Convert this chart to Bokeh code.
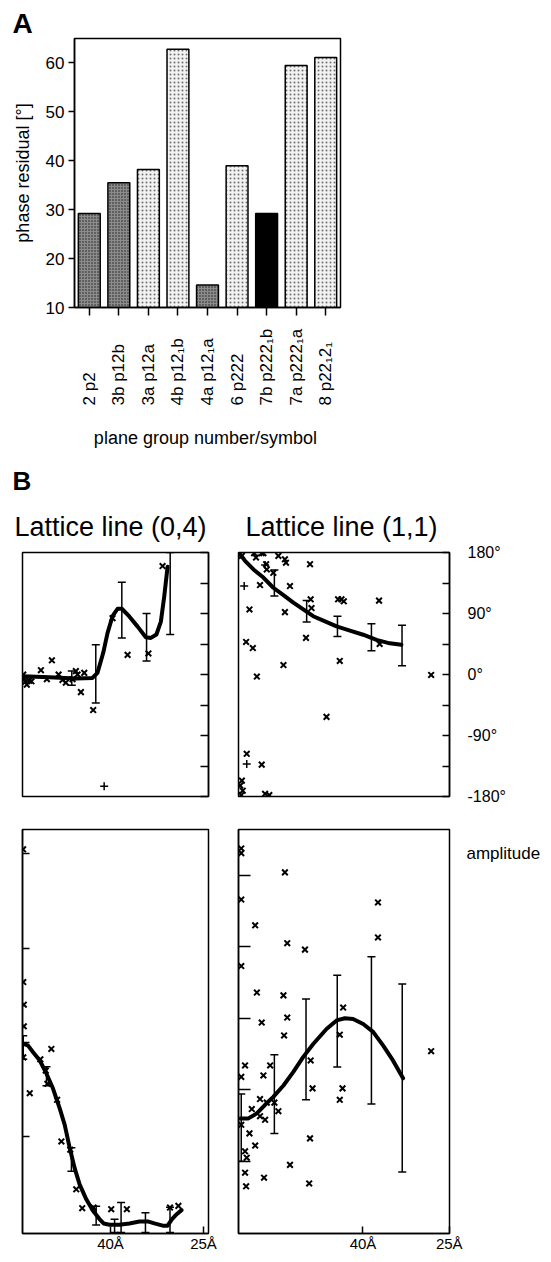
import math
from bokeh.plotting import figure
from bokeh.models import Range1d, LinearAxis, FixedTicker, Whisker, TeeHead, ColumnDataSource, Title
from bokeh.core.properties import value
from bokeh.layouts import column, row
from bokeh.embed import file_html
from bokeh.resources import INLINE

FONT = "Liberation Sans"

# ---------------- Panel A data ----------------
plane_groups = ["2 p2", "3b p12b", "3a p12a", "4b p12\u2081b", "4a p12\u2081a",
                "6 p222", "7b p222\u2081b", "7a p222\u2081a", "8 p22\u20812\u2081"]
phase_residual = [29.2, 35.5, 38.2, 62.8, 14.6, 39.0, 29.2, 59.5, 61.1]
bar_shading = ["dark", "dark", "light", "light", "dark", "light", "black", "light", "light"]
residual_ticks = [10, 20, 30, 40, 50, 60]

# ---------------- Panel B data ----------------
# Lattice line (0,4): phase
ll04_phase_curve_z = [0, .143, .287, .376, .403, .434, .457, .484, .511, .534, .573, .618, .663, .690, .720, .744, .762, .780]
ll04_phase_curve = [-2.5, -4, -6, -5, 2.4, 32, 61, 86, 97, 97, 86, 71, 55, 54, 59, 78, 115, 159]
ll04_phase_err_z = [.265, .394, .534, .667, .794]
ll04_phase_err_hi = [5, 44, 136, 90, 180]
ll04_phase_err_lo = [-16, -42, 54, 20, 59]
ll04_phase_pts_z = [.004, .009, .014, .023, .036, .048, .099, .131, .158, .194, .215, .233, .269, .287, .296, .332, .314, .380, .484, .565, .677, .753]
ll04_phase_pts = [0, -6.4, -11, -15, -9, -10, 6.4, -7, 21, 0, -8, -12, -7, 5, 0, 2.4, -26, -52.5, 83, 29, 31, 160]
ll04_phase_plus_z = [.439]
ll04_phase_plus = [-165]

# Lattice line (1,1): phase
ll11_phase_curve_z = [.005, .031, .071, .118, .165, .213, .260, .307, .354, .402, .465, .528, .591, .654, .717, .772]
ll11_phase_curve = [178.5, 167.6, 155, 143, 128, 117, 106, 96, 86, 79.5, 71, 64.7, 58.7, 51, 46, 44]
ll11_phase_err_z = [.170, .323, .469, .630, .775]
ll11_phase_err_hi = [154, 109, 86, 75, 72.6]
ll11_phase_err_lo = [116, 77.5, 56, 35, 13]
ll11_phase_pts_z = [.016, .074, .083, .110, .118, .131, .134, .165, .189, .220, .225, .339, .244, .102, .052, .220,
                    .036, .068, .087, .213, .320, .342, .346, .472, .488, .499, .666, .669, .480, .417, .913,
                    .110, .039, .016, .008, .020, .013, .126, .146]
ll11_phase_pts = [175, 179, 172.6, 179, 179, 162.7, 155, 150, 175, 170, 165, 162.7, 130.5, 132, 96, 92,
                  48, 39, -3, 14, 54, 111, 98, 111, 111, 108, 109, 45, 20, -62.5, -0.7,
                  -133, -117, -156.6, -164, -171.5, -178, -176, -178]
ll11_phase_plus_z = [.027, .039, .126]
ll11_phase_plus = [130.5, -132, 161.7]

# Lattice line (0,4): amplitude
ll04_amp_curve_z = [0, .030, .057, .093, .129, .164, .2, .227, .254, .280, .307, .343, .379, .414, .436, .468, .521,
                    .575, .629, .673, .709, .754, .780, .804, .829, .855]
ll04_amp_curve = [1.99, 1.965, 1.895, 1.807, 1.667, 1.509, 1.298, 1.123, .877, .667, .491, .333, .211, .123, .077,
                  .063, .063, .077, .098, .098, .077, .053, .053, .123, .175, .218]
ll04_amp_err_z = [.004, .129, .263, .396, .495, .530, .661, .793]
ll04_amp_err_hi = [2.07, 1.74, .88, .26, .12, .30, .19, .25]
ll04_amp_err_lo = [1.82, 1.54, .63, .06, -.02, -.02, -.02, -.02]
ll04_amp_pts_z = [.003, .004, .007, .007, .004, .039, .155, .096, .125, .134, .186, .209, .257, .289, .321, .382,
                  .477, .561, .793, .838]
ll04_amp_pts = [4.05, 2.64, 2.40, 2.17, 1.84, 1.46, 1.93, 1.82, 1.70, 1.56, 1.39, .947, .86, .439, .239, .246,
                .228, .228, .246, .263]

# Lattice line (1,1): amplitude
ll11_amp_curve_z = [.008, .047, .087, .126, .165, .213, .260, .307, .354, .417, .465, .504, .543, .591, .638, .685, .732, .780]
ll11_amp_curve = [1.60, 1.60, 1.67, 1.79, 1.90, 2.06, 2.25, 2.46, 2.64, 2.85, 2.97, 3.0, 2.99, 2.92, 2.81, 2.62, 2.41, 2.16]
ll11_amp_err_z = [.013, .170, .320, .468, .630, .776]
ll11_amp_err_hi = [1.94, 2.49, 3.27, 3.60, 3.86, 3.48]
ll11_amp_err_lo = [1.0, 1.39, 1.86, 2.32, 1.80, .85]
ll11_amp_pts_z = [.013, .013, .013, .013, .013, .031, .087, .110, .118, .079, .220, .231, .315, .213, .231, .216,
                  .150, .102, .134, .170, .189, .063, .102, .126, .013, .052, .079, .031, .039, .031, .036, .121,
                  .244, .339, .335, .342, .351, .480, .496, .493, .480, .661, .661, .913]
ll11_amp_pts = [5.375, 5.31, 4.66, 3.73, 2.18, 2.34, 3.36, 2.94, 2.20, 4.30, 5.04, 4.05, 3.96, 3.32, 3.01, 2.76,
                2.34, 1.87, 1.82, 1.82, 1.70, 1.73, 1.63, 1.58, 1.51, 1.39, 1.22, 1.14, 1.05, .84, .65, .77,
                .95, 1.32, .69, 2.41, 2.02, 2.77, 3.15, 2.02, 1.86, 4.62, 4.13, 2.54]

phase_ticks = [-180, -135, -90, -45, 0, 45, 90, 135, 180]
phase_labels = {-180: "-180\u00b0", -135: "", -90: "-90\u00b0", -45: "", 0: "0\u00b0",
                45: "", 90: "90\u00b0", 135: "", 180: "180\u00b0"}
ll04_amp_ticks = [1, 2, 3, 4]
ll11_amp_ticks = [1, 2, 3, 4, 5]
ll04_res_ticks = [0.473, 0.973]
ll11_res_ticks = [0.59, 0.999]
res_labels = ["40\u00c5", "25\u00c5"]
amplitude_label_at = 5.31


def make_fig(w, h, xr, yr, bl, br, bt, bb, outline=True):
    p = figure(width=w, height=h, x_range=xr, y_range=yr, output_backend="svg",
               toolbar_location=None, x_axis_location=None, y_axis_location=None,
               min_border_left=bl, min_border_right=br, min_border_top=bt, min_border_bottom=bb)
    p.xgrid.visible = False
    p.ygrid.visible = False
    if outline:
        p.outline_line_color = "black"
        p.outline_line_width = 1.5
        p.outline_line_alpha = 1.0
    else:
        p.outline_line_color = None
    return p


def inner_axis(ticks, tick_len, labels=None, font_size="15px", standoff=0):
    ax = LinearAxis(ticker=FixedTicker(ticks=ticks), major_tick_in=tick_len, major_tick_out=0,
                    minor_tick_line_color=None, axis_line_color="black", axis_line_width=1.5,
                    major_tick_line_width=1.5, major_label_text_font=FONT,
                    major_label_text_font_size=font_size, major_label_standoff=standoff,
                    major_label_text_color="black")
    if labels is not None:
        ax.major_label_overrides = labels
    else:
        ax.major_label_text_font_size = "1px"
        ax.major_label_text_color = None
    return ax


# ---------------- Panel A ----------------
pa = make_fig(543, 316, Range1d(0.5, 9.5), Range1d(10, 65), 74, 203, 38, 9)
xs = list(range(1, len(plane_groups) + 1))
styles = {
    "dark": dict(fill_color="#8c8c8c", hatch_pattern="dot", hatch_color="#1a1a1a", hatch_scale=3, hatch_weight=1),
    "light": dict(fill_color="#f2f2f2", hatch_pattern="dot", hatch_color="#707070", hatch_scale=4, hatch_weight=1),
    "black": dict(fill_color="black"),
}
for shade, st in styles.items():
    bx = [x for x, s in zip(xs, bar_shading) if s == shade]
    bt = [v for v, s in zip(phase_residual, bar_shading) if s == shade]
    pa.vbar(x=bx, top=bt, bottom=0, width=0.74, line_color="black", line_width=1.5, **st)

left_ax = LinearAxis(ticker=FixedTicker(ticks=residual_ticks), major_tick_out=6, major_tick_in=0,
                     minor_tick_line_color=None, axis_line_width=1.5, major_tick_line_width=1.5,
                     major_label_text_font=FONT, major_label_text_font_size="17px",
                     major_label_text_color="black", major_label_standoff=4,
                     axis_label="phase residual [\u00b0]", axis_label_text_font=FONT,
                     axis_label_text_font_size="18px", axis_label_text_font_style="normal",
                     axis_label_text_color="black", axis_label_standoff=10)
pa.add_layout(left_ax, "left")
bottom_ax = LinearAxis(ticker=FixedTicker(ticks=xs), major_tick_out=8, major_tick_in=0,
                       minor_tick_line_color=None, axis_line_width=1.5, major_tick_line_width=1.5,
                       major_label_text_font_size="1px", major_label_text_color=None,
                       major_label_standoff=0)
pa.add_layout(bottom_ax, "below")
pa.add_layout(Title(text="A", align="left", offset=-62, standoff=0, text_font=FONT,
                    text_font_size="28px", text_font_style="bold", text_color="black"), "above")

# strip under panel A carrying the rotated category names and the axis title
pa_names = make_fig(543, 144, pa.x_range, Range1d(0, 144), 74, 203, 0, 0, outline=False)
pa_names.text(x=xs, y=[55] * len(xs), text=plane_groups, angle=math.pi / 2, text_align="left",
              text_baseline="middle", text_font=value(FONT), text_font_size="17px", text_color="black")
pa_names.text(x=[4.93], y=[23], text=["plane group number/symbol"], text_align="center",
              text_baseline="alphabetic", text_font=value(FONT), text_font_size="18px", text_color="black")


def draw_panel(p, cz, cv, ez, ehi, elo, pz, pv, plz=None, plv=None):
    src = ColumnDataSource(dict(z=ez, hi=ehi, lo=elo))
    p.add_layout(Whisker(source=src, base="z", upper="hi", lower="lo", dimension="height",
                         line_color="black", line_width=1.5,
                         upper_head=TeeHead(size=8, line_width=1.5, line_color="black"),
                         lower_head=TeeHead(size=8, line_width=1.5, line_color="black")))
    p.line(cz, cv, line_color="black", line_width=4, line_join="round", line_cap="round")
    p.scatter(pz, pv, marker="x", size=8, line_width=2, line_color="black")
    if plz:
        p.scatter(plz, plv, marker="cross", size=8, line_width=1.5, line_color="black")


def lattice_title(text, offset):
    return Title(text=text, align="left", offset=offset, standoff=22, text_font=FONT,
                 text_font_size="27px", text_font_style="normal", text_color="black")


# ---------------- Upper-left: (0,4) phase ----------------
ul = make_fig(228, 350, Range1d(0, 1), Range1d(-180, 180), 22, 20, 92, 14)
draw_panel(ul, ll04_phase_curve_z, ll04_phase_curve, ll04_phase_err_z, ll04_phase_err_hi, ll04_phase_err_lo,
           ll04_phase_pts_z, ll04_phase_pts, ll04_phase_plus_z, ll04_phase_plus)
ul.add_layout(inner_axis(phase_ticks, 8), "right")
ul.add_layout(lattice_title("Lattice line (0,4)", -8), "above")
ul.add_layout(Title(text="B", align="left", offset=-10, standoff=6, text_font=FONT,
                    text_font_size="26px", text_font_style="bold", text_color="black"), "above")

# ---------------- Upper-right: (1,1) phase ----------------
ur = make_fig(315, 350, Range1d(0, 1), Range1d(-180, 180), 10, 93, 92, 14)
draw_panel(ur, ll11_phase_curve_z, ll11_phase_curve, ll11_phase_err_z, ll11_phase_err_hi, ll11_phase_err_lo,
           ll11_phase_pts_z, ll11_phase_pts, ll11_phase_plus_z, ll11_phase_plus)
ur.add_layout(inner_axis(phase_ticks, 7, phase_labels, "16px", 18), "right")
ur.add_layout(lattice_title("Lattice line (1,1)", 7), "above")

# ---------------- Lower-left: (0,4) amplitude ----------------
ll = make_fig(228, 444, Range1d(0, 1), Range1d(-0.03, 4.26), 22, 20, 19, 19)
draw_panel(ll, ll04_amp_curve_z, ll04_amp_curve, ll04_amp_err_z, ll04_amp_err_hi, ll04_amp_err_lo,
           ll04_amp_pts_z, ll04_amp_pts)
ll.add_layout(inner_axis(ll04_amp_ticks, 7), "left")
ll.add_layout(inner_axis(ll04_res_ticks, 7, dict(zip(ll04_res_ticks, res_labels)), "15px", 1), "below")

# ---------------- Lower-right: (1,1) amplitude ----------------
lr = make_fig(315, 444, Range1d(0, 1), Range1d(-0.01, 5.64), 10, 93, 19, 19)
draw_panel(lr, ll11_amp_curve_z, ll11_amp_curve, ll11_amp_err_z, ll11_amp_err_hi, ll11_amp_err_lo,
           ll11_amp_pts_z, ll11_amp_pts)
lr.add_layout(inner_axis(ll11_amp_ticks, 12), "left")
lr.add_layout(inner_axis(ll11_res_ticks, 7, dict(zip(ll11_res_ticks, res_labels)), "15px", 1), "below")
amp_ax = LinearAxis(ticker=FixedTicker(ticks=[amplitude_label_at]),
                    major_label_overrides={amplitude_label_at: "amplitude"},
                    major_tick_in=0, major_tick_out=0, minor_tick_line_color=None, axis_line_color=None,
                    major_label_standoff=17, major_label_text_font=FONT, major_label_text_font_size="17px",
                    major_label_text_color="black")
lr.add_layout(amp_ax, "right")

layout = column(pa, pa_names, row(column(ul, ll, spacing=0), column(ur, lr, spacing=0), spacing=0), spacing=0)

open("out.html", "w").write(file_html(layout, INLINE))
